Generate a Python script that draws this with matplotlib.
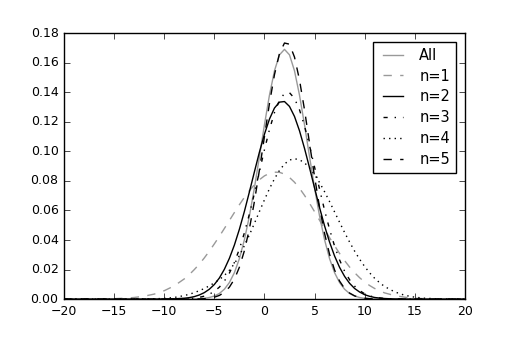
import numpy as np
import matplotlib
matplotlib.use('Agg')
import matplotlib.pyplot as plt

# x grid: coarse in the tails, finer around the peaks
x = ([-20, -19, -18, -17, -16, -15, -14, -13, -12, -11, -10, -9]
     + [-8, -7.5, -7, -6.5, -6, -5.5, -5, -4.5, -4, -3.5, -3, -2.5, -2, -1.5,
        -1, -0.5, 0, 0.5, 1, 1.5, 2, 2.5, 3, 3.5, 4, 4.5, 5, 5.5, 6, 6.5, 7,
        7.5, 8, 8.5, 9, 9.5, 10, 10.5, 11, 11.5, 12]
     + [13, 14, 15, 16, 17, 18, 19, 20])

y_all = [0, 0, 0, 0, 0, 0, 0, 0, 0, 0, 0, 0,
         0, 0, 0.0001, 0.0003, 0.0005, 0.0011, 0.0021, 0.0038, 0.0067, 0.0112,
         0.0179, 0.0274, 0.0402, 0.0563, 0.0753, 0.0964, 0.118, 0.138, 0.1545,
         0.1653, 0.169, 0.1653, 0.1545, 0.138, 0.118, 0.0964, 0.0753, 0.0563,
         0.0402, 0.0274, 0.0179, 0.0112, 0.0067, 0.0038, 0.0021, 0.0011,
         0.0005, 0.0003, 0.0001, 0.0001, 0,
         0, 0, 0, 0, 0, 0, 0, 0]

y_n1 = [0, 0, 0, 0.0001, 0.0001, 0.0003, 0.0006, 0.0011, 0.0020, 0.0034,
        0.0057, 0.0090,
        0.0137, 0.0166, 0.0200, 0.0237, 0.0279, 0.0325, 0.0374, 0.0425,
        0.0478, 0.0532, 0.0586, 0.0639, 0.0689, 0.0734, 0.0774, 0.0808,
        0.0834, 0.0851, 0.0859, 0.0858, 0.0846, 0.0823, 0.0791, 0.0750,
        0.0702, 0.0649, 0.0592, 0.0534, 0.0474, 0.0416, 0.0361, 0.0309,
        0.0261, 0.0217, 0.0179, 0.0145, 0.0116, 0.0092, 0.0072, 0.0056,
        0.0042,
        0.0024, 0.0013, 0.0006, 0.0003, 0.0001, 0.0001, 0, 0]

y_n2 = [0, 0, 0, 0, 0, 0, 0, 0, 0, 0, 0.0001, 0.0002,
        0.0006, 0.0010, 0.0017, 0.0028, 0.0044, 0.0067, 0.0099, 0.0143,
        0.0202, 0.0276, 0.0366, 0.0473, 0.0594, 0.0726, 0.0862, 0.0995,
        0.1116, 0.1218, 0.1293, 0.1333, 0.1337, 0.1304, 0.1236, 0.1139,
        0.1020, 0.0889, 0.0753, 0.0620, 0.0496, 0.0386, 0.0292, 0.0215,
        0.0154, 0.0107, 0.0072, 0.0048, 0.0030, 0.0019, 0.0011, 0.0007,
        0.0004,
        0.0001, 0, 0, 0, 0, 0, 0, 0]

y_n3 = [0, 0, 0, 0, 0, 0, 0, 0, 0, 0, 0, 0.0001,
        0.0002, 0.0004, 0.0007, 0.0012, 0.0020, 0.0033, 0.0053, 0.0081,
        0.0122, 0.0176, 0.0248, 0.0339, 0.0449, 0.0576, 0.0716, 0.0864,
        0.1011, 0.1147, 0.1262, 0.1346, 0.1392, 0.1397, 0.1358, 0.1281,
        0.1172, 0.1039, 0.0894, 0.0745, 0.0602, 0.0473, 0.0359, 0.0265,
        0.0189, 0.0131, 0.0088, 0.0058, 0.0036, 0.0022, 0.0013, 0.0008,
        0.0004,
        0.0001, 0, 0, 0, 0, 0, 0, 0]

y_n4 = [0, 0, 0, 0, 0, 0, 0, 0, 0.0001, 0.0002, 0.0005, 0.0011,
        0.0024, 0.0033, 0.0044, 0.0057, 0.0072, 0.0090, 0.0110, 0.0132,
        0.0160, 0.0195, 0.0240, 0.0295, 0.0362, 0.0435, 0.0513, 0.0593,
        0.0672, 0.0747, 0.0814, 0.0871, 0.0914, 0.0941, 0.0950, 0.0943,
        0.0922, 0.0889, 0.0843, 0.0789, 0.0727, 0.0660, 0.0590, 0.0520,
        0.0451, 0.0386, 0.0325, 0.0270, 0.0221, 0.0178, 0.0141, 0.0111,
        0.0085,
        0.0049, 0.0026, 0.0013, 0.0006, 0.0003, 0.0001, 0, 0]

y_n5 = [0, 0, 0, 0, 0, 0, 0, 0, 0, 0, 0, 0,
        0, 0, 0.0001, 0.0001, 0.0003, 0.0006, 0.0013, 0.0025, 0.0046, 0.0081,
        0.0135, 0.0216, 0.0328, 0.0477, 0.0661, 0.0874, 0.110, 0.1324,
        0.1519, 0.1662, 0.1733, 0.1725, 0.1638, 0.1483, 0.1281, 0.1055,
        0.0830, 0.0622, 0.0445, 0.0303, 0.0197, 0.0122, 0.0072, 0.0041,
        0.0022, 0.0011, 0.0006, 0.0003, 0.0001, 0.0001, 0,
        0, 0, 0, 0, 0, 0, 0, 0]

plt.style.use('classic')
plt.rcParams['font.size'] = 9
plt.rcParams['figure.facecolor'] = 'white'
plt.rcParams['savefig.facecolor'] = 'white'

fig = plt.figure(figsize=(5.17, 3.45), dpi=100)
ax = fig.add_subplot(111)
fig.subplots_adjust(left=0.124, right=0.899, top=0.904, bottom=0.133)

ax.plot(x, y_all, color='0.6', linestyle='-', label='All')
ax.plot(x, y_n1, color='0.6', linestyle='--', label='n=1')
ax.plot(x, y_n2, color='k', linestyle='-', label='n=2')
ax.plot(x, y_n3, color='k', linestyle='-.', label='n=3')
ax.plot(x, y_n4, color='k', linestyle=':', label='n=4')
ax.plot(x, y_n5, color='k', linestyle='--', label='n=5')

ax.set_xlim(-20, 20)
ax.set_ylim(0, 0.18)
ax.set_yticks(np.arange(0, 0.181, 0.02))
ax.legend(loc='upper right', fontsize=10.5, labelspacing=0.4, borderaxespad=0.6)

fig.savefig('out.png', dpi=100)
